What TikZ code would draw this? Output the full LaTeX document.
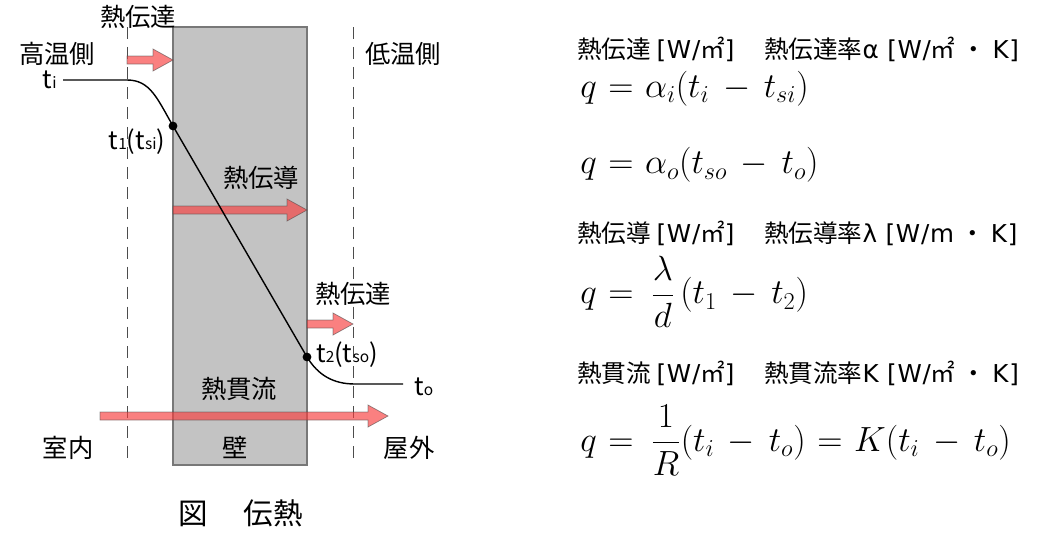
\documentclass[tikz,border=0pt]{standalone}
\usepackage{amsmath}
\usepackage[no-math]{fontspec}
\setmainfont{Noto Sans CJK JP}
\newfontfamily\latinw[LetterSpace=3]{DejaVu Sans}
\usepackage{tikz}
\usetikzlibrary{positioning,calc}
\definecolor{wallgray}{RGB}{195,195,195}
\definecolor{wallline}{RGB}{120,120,120}
\definecolor{heatred}{RGB}{248,60,60}
\tikzset{
  lbl/.style={inner sep=0pt, font=\fontsize{18}{18}\selectfont},
  wallbox/.style={fill=wallgray, draw=wallline, line width=0.8pt},
  bound/.style={draw=black!70, line width=0.6pt, dash pattern=on 8.5pt off 5.7pt},
  heatarrow/.style={fill=heatred, fill opacity=0.65, draw=black!70, draw opacity=0.6, line width=0.5pt},
  tcurve/.style={line width=1pt},
  tdot/.style={circle, fill=black, inner sep=0pt, minimum size=2.2mm},
  eqhead/.style={anchor=west, inner sep=0pt, font=\fontsize{17.5}{17.5}\selectfont},
  eqline/.style={anchor=west, inner sep=0pt, font=\fontsize{25}{25}\selectfont}
}
% block arrow: start x, tip x, y
\newcommand{\blockarrow}[3]{%
  \draw[heatarrow] (#1,#3-4) -- (#2-20,#3-4) -- (#2-20,#3-11) -- (#2,#3)
    -- (#2-20,#3+11) -- (#2-20,#3+4) -- (#1,#3+4) -- cycle;}
\newcommand{\sm}[1]{{\fontsize{11}{11}\selectfont #1}}
\newcommand{\unit}[1]{{\latinw\fontsize{17.5}{17.5}\selectfont #1}}
\newcommand{\msq}{{\rmfamily\fontsize{17.5}{17.5}\selectfont ㎡}}
\newcommand{\mdot}{{\rmfamily\fontsize{17.5}{17.5}\selectfont\hspace{0.25em}・\hspace{0.25em}}}
\newcommand{\wideeq}{\thickmuskip=6mu plus 2mu\medmuskip=7mu plus 2mu}
\begin{document}
\begin{tikzpicture}[x=0.025cm, y=-0.025cm]
  \useasboundingbox (0,0) rectangle (1051,535);

  % Wall and boundary layers
  \draw[wallbox] (173,27) rectangle (307,465);
  \draw[bound] (127,27) -- (127,465);
  \draw[bound] (353,27) -- (353,465);

  % Heat flow arrows
  \blockarrow{127}{173}{60}
  \blockarrow{173}{307}{210}
  \blockarrow{307}{353}{324}

  % Temperature profile
  \coordinate (ti) at (63,80);
  \node[tdot] (tsi) at (173,126) {};
  \node[tdot] (tso) at (307,357) {};
  \coordinate (to) at (403,384);
  \draw[tcurve] (ti) -- (127,80) .. controls (150,80) and (157,98) .. (tsi.center)
    -- (tso.center) .. controls (318,375) and (333,384) .. (355,384) -- (to);

  \blockarrow{100}{388}{416}

  % Labels
  \node[lbl] (convin)  at (138,17)  {熱伝達};
  \node[lbl] (hot)     at (57,54)   {高温側};
  \node[lbl] (cold)    at (403,54)  {低温側};
  \node[lbl, anchor=east] (tilbl) at (57,80) {t\sm{i}};
  \node[lbl] (tsilbl)  at (137,142) {t\sm{1}(t\sm{si})};
  \node[lbl] (cond)    at (261,178) {熱伝導};
  \node[lbl] (convout) at (353,294) {熱伝達};
  \node[lbl] (tsolbl)  at (347,355) {t\sm{2}(t\sm{so})};
  \node[lbl, anchor=west] (tolbl) at (414,387) {t\sm{o}};
  \node[lbl] (trans)   at (239,389) {熱貫流};
  \node[lbl] (indoor)  at (68,448)  {室内};
  \node[lbl] (wall)    at (235,448) {壁};
  \node[lbl] (outdoor) at (409,448) {屋外};
  \node[lbl, font=\fontsize{21}{21}\selectfont] (caption) at (241,513) {図\hspace{1.2em}伝熱};

  % Equations
  \node[eqhead] (head1) at (577,49)  {熱伝達 \unit{[W/}\msq\unit{]}\hspace{1.2em}熱伝達率\unit{α [W/}\msq\mdot\unit{K]}};
  \node[eqline] (eq1)   at (580,89)  {$\wideeq q = \alpha_i(t_i - t_{si})$};
  \node[eqline] (eq2)   at (580,165) {$\wideeq q = \alpha_o(t_{so} - t_o)$};
  \node[eqhead] (head2) at (577,233) {熱伝導 \unit{[W/}\msq\unit{]}\hspace{1.2em}熱伝導率\unit{λ [W/m}\mdot\unit{K]}};
  \node[eqline] (eq3)   at (580,292) {$\wideeq q = \,\dfrac{\lambda}{d}\,(t_1 - t_2)$};
  \node[eqhead] (head3) at (577,373) {熱貫流 \unit{[W/}\msq\unit{]}\hspace{1.2em}熱貫流率\unit{K [W/}\msq\mdot\unit{K]}};
  \node[eqline] (eq4)   at (580,440) {$\wideeq q = \,\dfrac{1}{R}(t_i - t_o) = K(t_i - t_o)$};
\end{tikzpicture}
\end{document}
